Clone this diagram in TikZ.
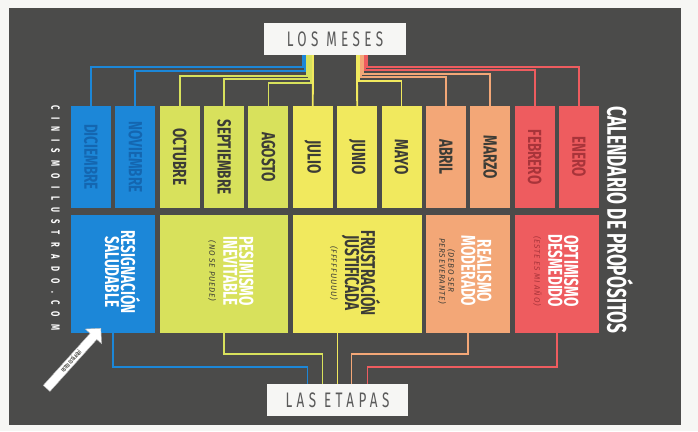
\documentclass[tikz,border=0pt]{standalone}
\usepackage{fontspec}
\setmainfont{Fira Sans}
\newfontfamily\cond{Fira Sans}[FakeStretch=0.64]
\newfontfamily\condm{Fira Sans}[FakeStretch=0.71]
\newfontfamily\condt{Fira Sans}[FakeStretch=0.68]
\newfontfamily\labf{Fira Sans}[FakeStretch=0.64,LetterSpace=21]
\newfontfamily\sidef{Fira Sans}[FakeStretch=0.64,LetterSpace=61]
\newfontfamily\subf{Fira Sans}[LetterSpace=10]
\usetikzlibrary{shapes.arrows,calc}
\definecolor{paper}{HTML}{F6F6F4}
\definecolor{bg}{HTML}{4B4B4A}
\definecolor{cblue}{HTML}{1C87D8}
\definecolor{clime}{HTML}{D8E15C}
\definecolor{cyel}{HTML}{F1E95E}
\definecolor{corg}{HTML}{F3A777}
\definecolor{cred}{HTML}{EE5C5F}
\definecolor{txt}{HTML}{3C3C36}
\definecolor{tblue}{HTML}{1466B0}
\definecolor{tred}{HTML}{A8343A}
\definecolor{labgray}{HTML}{5A5A5A}
\newcommand\subt[1]{{\subf\itshape\mdseries\fontsize{8}{8}\selectfont #1}}
\tikzset{
  mbox/.style={minimum width=40pt,minimum height=102pt,inner sep=0pt,
    font=\condm\bfseries\fontsize{19}{19}\selectfont},
  sbox/.style={minimum height=118pt,inner sep=0pt},
  stitle/.style={rotate=-90,align=center,inner sep=0pt,
    font=\condt\bfseries\fontsize{20}{16}\selectfont},
  labbox/.style={fill=paper,minimum width=142pt,minimum height=32pt,inner sep=0pt,
    text=labgray,font=\labf\fontsize{21}{21}\selectfont},
  wire/.style={line width=1.8pt},
}
\begin{document}
\begin{tikzpicture}[x=1pt,y=-1pt]
\useasboundingbox (0,0) rectangle (698,431);
\fill[paper] (0,0) rectangle (698,431);
\fill[bg] (9,8) rectangle (681,425);

% month boxes
\foreach \i/\lab/\fc/\tc in {0/DICIEMBRE/cblue/tblue,1/NOVIEMBRE/cblue/tblue,
  2/OCTUBRE/clime/txt,3/SEPTIEMBRE/clime/txt,4/AGOSTO/clime/txt,
  5/JULIO/cyel/txt,6/JUNIO/cyel/txt,7/MAYO/cyel/txt,
  8/ABRIL/corg/txt,9/MARZO/corg/txt,10/FEBRERO/cred/tred,11/ENERO/cred/tred}
  \node[mbox,fill=\fc,text=\tc] (m\i) at ({91+44.36*\i},157) {\raisebox{0pt}[0pt][0pt]{}\rotatebox{-90}{\lab}};

% stage boxes
\node[sbox,fill=cblue,minimum width=84.4pt] (s0) at (113.2,274) {};
\node[sbox,fill=clime,minimum width=128.7pt] (s1) at (224.05,274) {};
\node[sbox,fill=cyel,minimum width=128.7pt] (s2) at (357.15,274) {};
\node[sbox,fill=corg,minimum width=84.3pt] (s3) at (468.05,274) {};
\node[sbox,fill=cred,minimum width=84.4pt] (s4) at (556.8,274) {};

% stage texts
\node[stitle,text=white] (t0) at (122.5,272) {RESIGNACIÓN\\SALUDABLE};
\node[stitle,text=white] (t1) at (231,271) {PESIMISMO\\INEVITABLE\\[-2pt]\textcolor{txt}{\subt{(NO SE PUEDE)}}};
\node[stitle,text=txt] (t2) at (355,273) {FRUSTRACIÓN\\JUSTIFICADA\\[-2pt]\subt{(FFFFFUUUU)}};
\node[stitle,text=white] (t3) at (465,271) {REALISMO\\MODERADO\\[-3pt]\textcolor{txt}{\subt{(DEBO SER}}\\[-7pt]\textcolor{txt}{\subt{PERSEVERANTE)}}};
\node[stitle,text=white] (t4) at (556,271) {OPTIMISMO\\DESMEDIDO\\[-2pt]\textcolor{tred}{\subt{(ESTE ES MI AÑO)}}};

% side texts
\node[rotate=-90,text=white,inner sep=0pt,font=\cond\bfseries\fontsize{27}{27}\selectfont] (cal) at (620,220) {CALENDARIO DE PROPÓSITOS};
\node[rotate=-90,text=white,inner sep=0pt,font=\sidef\bfseries\fontsize{12}{12}\selectfont] (web) at (55.5,218) {CINISMOILUSTRADO.COM};

% label boxes
\node[labbox] (meses) at (335,39) {LOS MESES};
\node[labbox,minimum width=141pt] (etapas) at (337.5,400) {LAS ETAPAS};

% top wires
\draw[wire,cblue] ([xshift=-32pt]meses.south) |- ([yshift=39pt]m0.north) -- (m0.north);
\draw[wire,cblue] ([xshift=-30pt]meses.south) |- ([yshift=34.5pt]m1.north) -- (m1.north);
\draw[wire,clime] ([xshift=-28pt]meses.south) |- ([yshift=30pt]m2.north) -- (m2.north);
\draw[wire,clime] ([xshift=-26pt]meses.south) |- ([yshift=26.5pt]m3.north) -- (m3.north);
\draw[wire,clime] ([xshift=-24pt]meses.south) |- ([yshift=23pt]m4.north) -- (m4.north);
\draw[wire,cyel] ([xshift=-22pt]meses.south) -- (m5.north);
\draw[wire,cyel] ([xshift=22pt]meses.south) -- (m6.north);
\draw[wire,cyel] ([xshift=24pt]meses.south) |- ([yshift=25pt]m7.north) -- (m7.north);
\draw[wire,corg] ([xshift=26pt]meses.south) |- ([yshift=28.5pt]m8.north) -- (m8.north);
\draw[wire,corg] ([xshift=28pt]meses.south) |- ([yshift=32pt]m9.north) -- (m9.north);
\draw[wire,cred] ([xshift=30pt]meses.south) |- ([yshift=35.5pt]m10.north) -- (m10.north);
\draw[wire,cred] ([xshift=32pt]meses.south) |- ([yshift=39pt]m11.north) -- (m11.north);

% bottom wires
\draw[wire,cblue] (s0.south) |- ([xshift=-30pt,yshift=17pt]etapas.north) -- ([xshift=-30pt]etapas.north);
\draw[wire,clime] (s1.south) |- ([xshift=-15pt,yshift=30pt]etapas.north) -- ([xshift=-15pt]etapas.north);
\draw[wire,cyel] (etapas.north |- s2.south) -- (etapas.north);
\draw[wire,corg] (s3.south) |- ([xshift=14pt,yshift=30pt]etapas.north) -- ([xshift=14pt]etapas.north);
\draw[wire,cred] (s4.south) |- ([xshift=30pt,yshift=17pt]etapas.north) -- ([xshift=30pt]etapas.north);

% arrow
\node[single arrow,fill=white,draw=black!30,rotate=48,anchor=tip,
  minimum height=81pt,minimum width=22pt,single arrow head extend=6pt,
  inner sep=0pt,text height=8pt,text depth=0pt] (arrow) at (101,328) {};
\node[rotate=48,inner sep=0pt,text=txt,font=\cond\bfseries\fontsize{5.5}{6}\selectfont]
  (aqui) at ($(arrow.tail)!0.45!(arrow.tip)$) {USTED ESTÁ AQUÍ};
\end{tikzpicture}
\end{document}
